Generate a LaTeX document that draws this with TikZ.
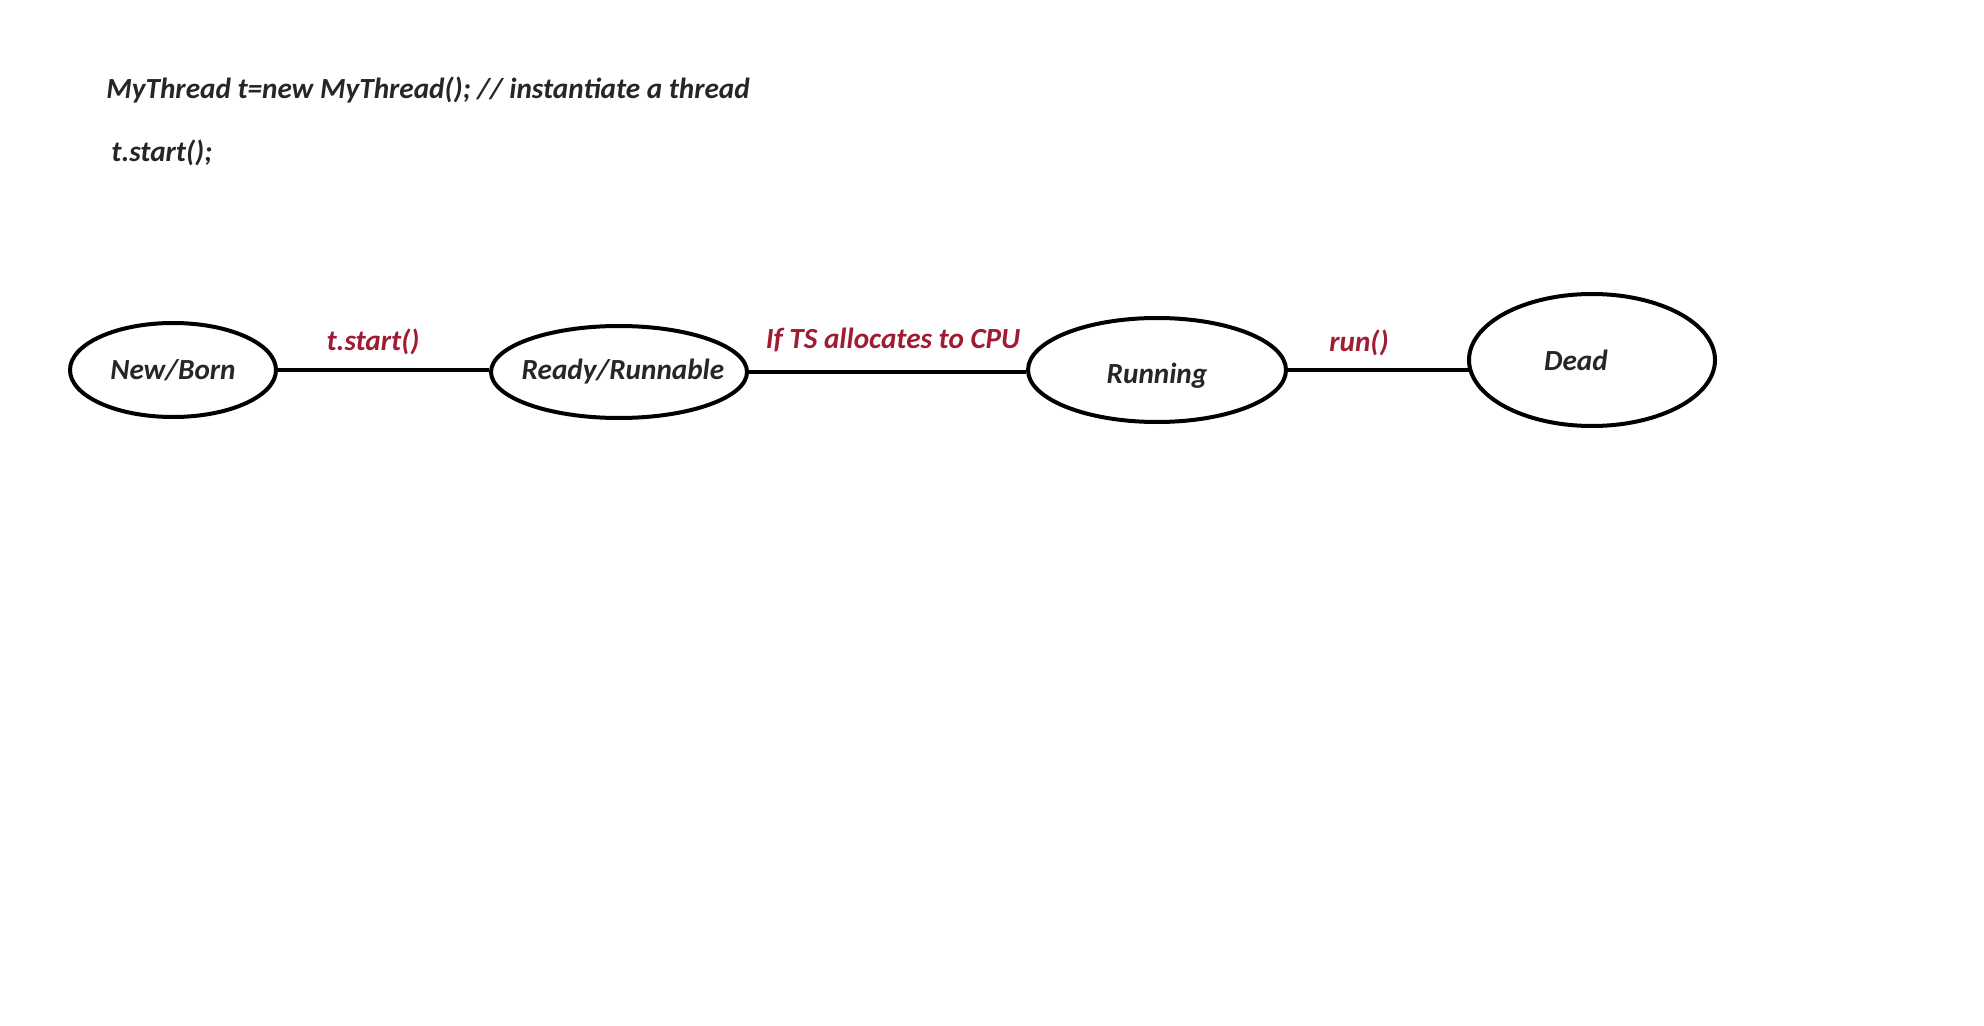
\documentclass[tikz,border=0pt]{standalone}
\usepackage{fontspec}
\setmainfont{Carlito}
\usetikzlibrary{shapes.geometric}
\definecolor{lblred}{RGB}{160,28,50}
\definecolor{txtgray}{RGB}{38,38,38}
\tikzset{
  state/.style={draw=black, ellipse, line width=2pt, inner xsep=-8pt, inner ysep=0pt, text=txtgray,
    font=\fontsize{14.6}{16}\selectfont\bfseries\itshape},
  conn/.style={draw=black, line width=2pt},
  lbl/.style={text=lblred, font=\fontsize{14.6}{16}\selectfont\bfseries\itshape, inner sep=0pt},
  code/.style={text=txtgray, font=\fontsize{14.6}{16}\selectfont\bfseries\itshape, inner sep=0pt, anchor=west}
}
\begin{document}
\begin{tikzpicture}[x=0.5pt, y=-0.5pt]
\useasboundingbox (0,0) rectangle (1984,1026);
\node[code] (c1) at (106,90) {MyThread t=new MyThread(); // instantiate a thread};
\node[code] (c2) at (111,153) {t.start();};
\node[state, minimum width=103pt, minimum height=47pt] (nb) at (173,370) {New/Born};
\node[state, minimum width=128pt, minimum height=46pt] (rr) at (619,372) {\kern4pt Ready/Runnable};
\node[state, minimum width=129pt, minimum height=52pt] (run) at (1157,370) {\raisebox{-3pt}[\height][\depth]{Running}};
\node[state, minimum width=123pt, minimum height=66pt] (dead) at (1592,360) {Dead\kern16pt};
\draw[conn] (nb.east) -- (nb.east -| rr.west);
\draw[conn] (rr.east) -- (rr.east -| run.west);
\draw[conn] (run.east) -- ([xshift=2pt]run.east -| dead.west);
\node[lbl] (l1) at (373,342) {t.start()};
\node[lbl] (l2) at (893,340) {If TS allocates to CPU};
\node[lbl] (l3) at (1359,343) {run()};
\end{tikzpicture}
\end{document}
